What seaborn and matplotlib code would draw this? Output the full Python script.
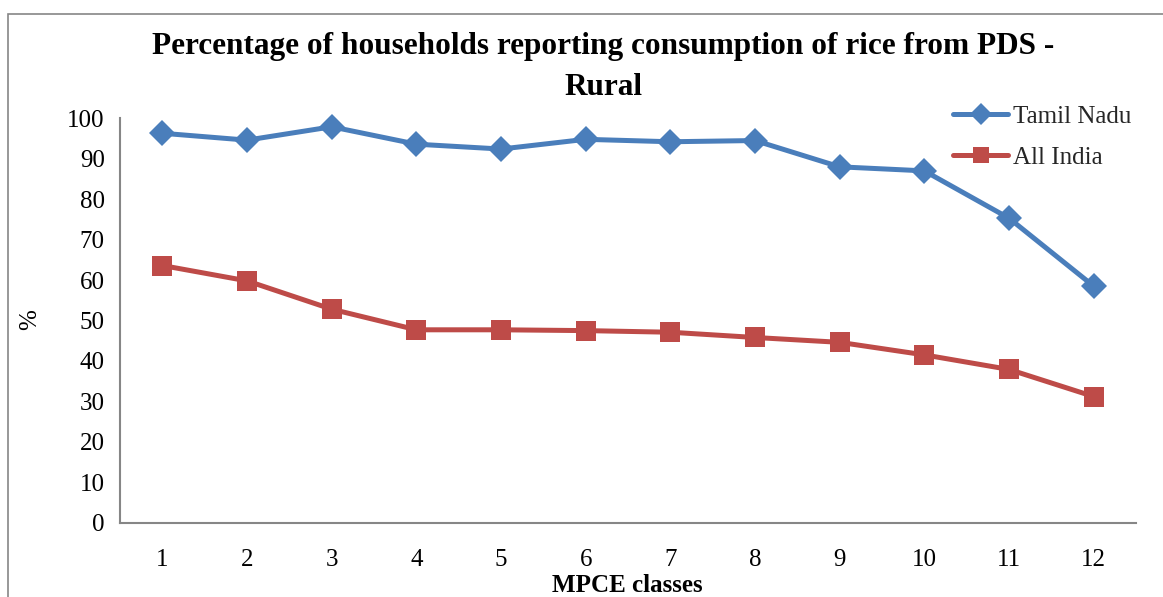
import matplotlib
matplotlib.use("Agg")
import matplotlib.pyplot as plt
import seaborn as sns
import pandas as pd
from matplotlib.patches import Rectangle

classes = list(range(1, 13))
tamil_nadu = [96.3, 94.6, 97.9, 93.6, 92.4, 94.8, 94.2, 94.5, 88.0, 87.0, 75.3, 58.5]
all_india = [63.6, 59.8, 52.8, 47.7, 47.7, 47.5, 47.1, 45.8, 44.6, 41.5, 37.9, 31.2]
series_names = ["Tamil Nadu", "All India"]
title = "Percentage of households reporting consumption of rice from PDS -\nRural"
xlabel = "MPCE classes"
ylabel = "%"
yticks = list(range(0, 101, 10))

df = pd.DataFrame({
    "MPCE": classes * 2,
    "value": tamil_nadu + all_india,
    "series": [series_names[0]] * 12 + [series_names[1]] * 12,
})

sns.set_theme(style="white")
plt.rcParams["font.family"] = ["Liberation Serif", "DejaVu Serif"]

W, H = 1163, 597
fig = plt.figure(figsize=(W / 100, H / 100), dpi=100)
y0_px, y100_px = 522.7, 118.3
ax = fig.add_axes([120 / W, 1 - y0_px / H, (1136 - 120) / W, (y0_px - y100_px) / H])

palette = {"Tamil Nadu": "#4A7EBB", "All India": "#BE4B48"}
markers = {"Tamil Nadu": "D", "All India": "s"}
sns.lineplot(data=df, x="MPCE", y="value", hue="series", style="series",
             palette=palette, markers=markers, dashes=False, linewidth=3.6,
             markersize=14, markeredgewidth=0, ax=ax, clip_on=False)
for line in ax.lines:
    if line.get_marker() == "D":
        line.set_markersize(13)

ax.set_xlim(0.5, 12.5)
ax.set_ylim(0, 100)
ax.set_xticks(classes)
ax.set_xticks([c + 0.5 for c in [0] + classes], minor=True)
ax.set_yticks(yticks)
ax.tick_params(axis="x", which="major", length=0, labelsize=18, pad=19)
ax.tick_params(axis="x", which="minor", length=7, width=1.2, color="#868686", direction="out")
ax.tick_params(axis="y", length=7, width=1.2, color="#868686", direction="out", labelsize=18, pad=4)
ax.tick_params(axis="both", labelcolor="black")
for s in ["top", "right"]:
    ax.spines[s].set_visible(False)
for s in ["left", "bottom"]:
    ax.spines[s].set_color("#868686")
    ax.spines[s].set_linewidth(1.5)

ax.set_xlabel(xlabel, fontsize=18, fontweight="bold", color="black")
ax.xaxis.label.set_va("center")
ax.xaxis.set_label_coords((627 - 120) / (1136 - 120), (y0_px - 585) / (y0_px - y100_px))
ax.set_ylabel(ylabel, fontsize=18, color="black")
ax.yaxis.label.set_va("center")
ax.yaxis.set_label_coords((30 - 120) / (1136 - 120), (y0_px - 320) / (y0_px - y100_px))

fig.text(603 / W, 1 - 67 / H, title, ha="center", va="center", fontsize=22.5,
         fontweight="bold", linespacing=1.52, color="black")

leg = ax.legend(loc="center left", bbox_to_anchor=(953 / W, 1 - 137 / H),
                bbox_transform=fig.transFigure, frameon=False, fontsize=18,
                handlelength=2.2, handletextpad=0.2, labelspacing=0.72, borderpad=0,
                borderaxespad=0)
for h in leg.legend_handles:
    h.set_markersize(11)

fig.patches.append(Rectangle((8 / W, -0.2), 2, 1.2 - 14 / H, transform=fig.transFigure,
                             fill=False, edgecolor="#868686", linewidth=1.2))

fig.savefig("out.png", dpi=100)
